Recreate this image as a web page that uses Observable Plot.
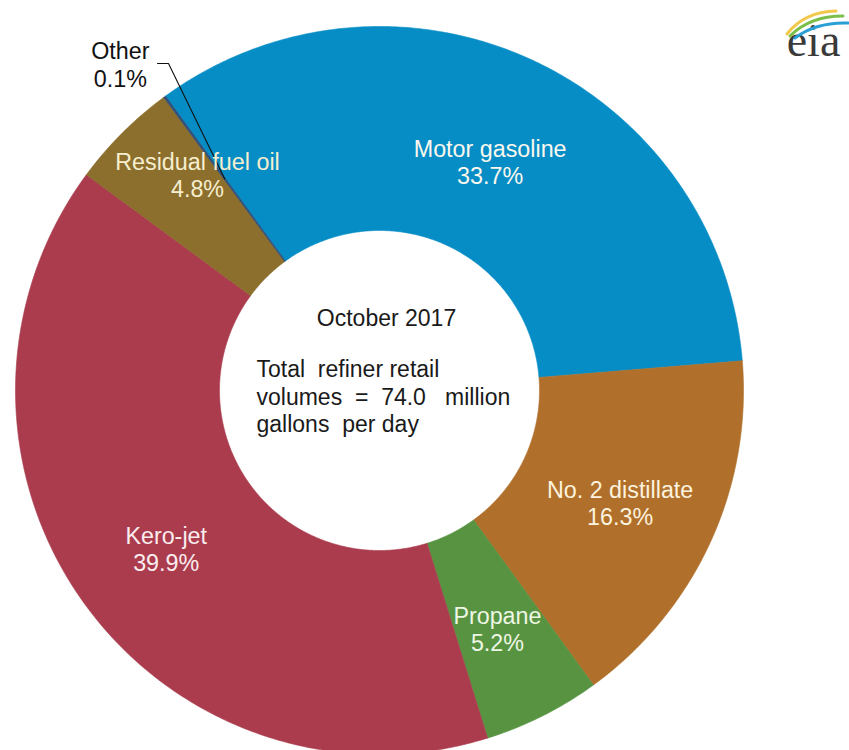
<!DOCTYPE html>
<html>
<head>
<meta charset="utf-8">
<script src="https://cdn.jsdelivr.net/npm/d3@7"></script>
<script src="https://cdn.jsdelivr.net/npm/@observablehq/plot@0.6"></script>
<style>
  html, body { margin: 0; padding: 0; background: #fff; }
  #wrap { position: relative; width: 849px; height: 750px; }
  #wrap svg text { white-space: pre; }
  #logo { position: absolute; left: 0; top: 0; pointer-events: none; }
</style>
</head>
<body>
<div id="wrap"></div>
<script>
// ---- data ----
const categories = ["Motor gasoline", "No. 2 distillate", "Propane", "Kero-jet", "Residual fuel oil", "Other"];
const shares = [33.7, 16.3, 5.2, 39.9, 4.8, 0.1];
const colors = ["#078dc6", "#b0702b", "#589342", "#aa3c4e", "#8c6e2d", "#2f4f7a"];
const periodLabel = "October 2017";
const totalText = "Total  refiner retail\nvolumes  =  74.0   million\ngallons  per day";

// ---- layout ----
const W = 849, H = 750;
const CX = 379, CY = 390, R = 364, RI = 160;      // pixels
const START_DEG = -36;                              // first slice angle, clockwise from 12 o'clock
const inner = RI / R;
// label anchor positions (unit coordinates, y up, 1 = outer radius)
const labelPos = [
  [0.304, 0.628], [0.661, -0.308], [0.324, -0.654],
  [-0.586, -0.434], [-0.500, 0.593], [-0.712, 0.896]
];
const labelFill = ["#fbf8ee", "#fdf3df", "#eef6e4", "#fbecee", "#f6efcf", "#111"];

const rows = categories.map((name, i) => ({name, share: shares[i], pct: shares[i].toFixed(1) + "%", i}));
const a0 = START_DEG * Math.PI / 180;
const arcs = d3.pie().sort(null).value(d => d.share).startAngle(a0).endAngle(a0 + 2 * Math.PI)(rows);

// polygon points for each ring slice
const pts = [];
for (const a of arcs) {
  const n = Math.max(2, Math.ceil((a.endAngle - a.startAngle) / (Math.PI / 360)));
  const ring = [];
  for (let k = 0; k <= n; k++) {
    const t = a.startAngle + (a.endAngle - a.startAngle) * k / n;
    ring.push({x: Math.sin(t), y: Math.cos(t)});
  }
  for (let k = n; k >= 0; k--) {
    const t = a.startAngle + (a.endAngle - a.startAngle) * k / n;
    ring.push({x: inner * Math.sin(t), y: inner * Math.cos(t)});
  }
  ring.push(ring[0]);
  for (const p of ring) pts.push({...p, name: a.data.name});
}

const labels = rows.map((d, i) => ({
  text: d.name + "\n" + d.pct,
  x: labelPos[i][0], y: labelPos[i][1], fill: labelFill[i]
}));

// leader line for "Other": from label to mid-ring of its slice
const other = arcs[arcs.length - 1];
const om = (other.startAngle + other.endAngle) / 2;
const leader = [
  {x: (157 - CX) / R, y: (CY - 63) / R},
  {x: (168 - CX) / R, y: (CY - 63) / R},
  {x: 0.72 * Math.sin(om), y: 0.72 * Math.cos(om)}
];

const chart = Plot.plot({
  width: W, height: H, margin: 0,
  x: {domain: [-CX / R, (W - CX) / R], range: [0, W], axis: null},
  y: {domain: [-(H - CY) / R, CY / R], range: [H, 0], axis: null},
  color: {domain: categories, range: colors},
  style: {fontFamily: "'Liberation Sans', Arial, sans-serif", background: "#fff"},
  marks: [
    Plot.line(pts, {x: "x", y: "y", z: "name", fill: "name", stroke: "name", strokeWidth: 0.6, curve: "linear"}),
    Plot.line(leader, {x: "x", y: "y", stroke: "#111", strokeWidth: 1.1}),
    Plot.text(labels, {x: "x", y: "y", text: "text", fill: "fill", fontSize: 23.3, lineHeight: 1.18, textAnchor: "middle", lineAnchor: "middle"}),
    Plot.text([periodLabel], {x: (386 - CX) / R, y: (CY - 318) / R, text: d => d, fill: "#1a1a1a", fontSize: 23, textAnchor: "middle", lineAnchor: "middle"}),
    Plot.text([totalText], {x: (256 - CX) / R, y: (CY - 395.5) / R, text: d => d, fill: "#1a1a1a", fontSize: 23, lineHeight: 1.19, textAnchor: "start", lineAnchor: "middle"}),
    Plot.text(["eia"], {x: (813 - CX) / R, y: (CY - 55) / R, text: d => d, fill: "#3a3a3a", fontSize: 46, fontFamily: "'Liberation Serif', 'DejaVu Serif', serif", textAnchor: "middle", lineAnchor: "bottom"})
  ]
});
document.getElementById("wrap").appendChild(chart);

// logo swooshes
const ns = "http://www.w3.org/2000/svg";
const logo = document.createElementNS(ns, "svg");
logo.setAttribute("id", "logo");
logo.setAttribute("width", W); logo.setAttribute("height", H);
[["M787,34 Q804,12 836,11", "#f2c94c"], ["M790,36 Q810,16 843,16", "#7bbf4a"], ["M795,38 Q816,22 848,23", "#2a9fd6"]].forEach(([d, c]) => {
  const p = document.createElementNS(ns, "path");
  p.setAttribute("d", d); p.setAttribute("fill", "none"); p.setAttribute("stroke", c);
  p.setAttribute("stroke-width", "3"); p.setAttribute("stroke-linecap", "round");
  logo.appendChild(p);
});
document.getElementById("wrap").appendChild(logo);
</script>
</body>
</html>
